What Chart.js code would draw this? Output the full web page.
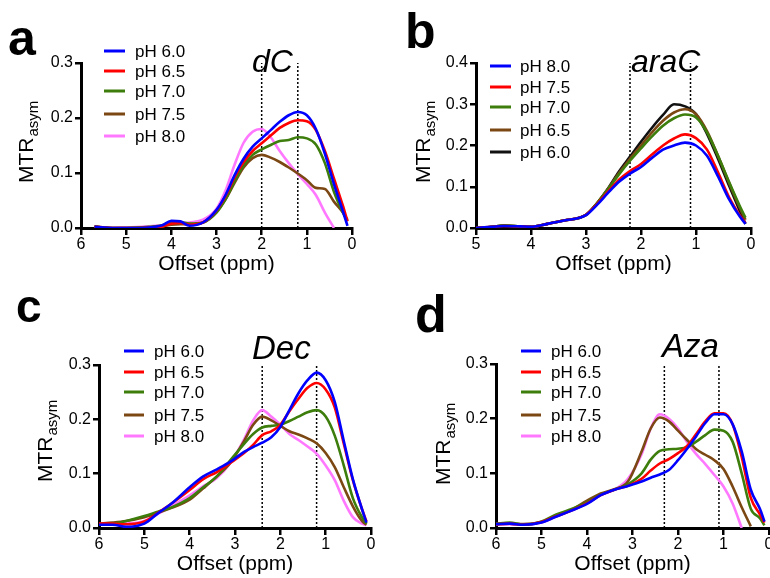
<!DOCTYPE html>
<html>
<head>
<meta charset="utf-8">
<script src="https://cdn.jsdelivr.net/npm/chart.js@4.4.1/dist/chart.umd.min.js"></script>
<style>
  body { margin: 0; background: #fff; width: 770px; height: 578px; overflow: hidden; position: relative; }
  canvas { position: absolute; }
</style>
</head>
<body>
<canvas id="chartA" width="385" height="289" style="left:0;top:0"></canvas>
<canvas id="chartB" width="385" height="289" style="left:385px;top:0"></canvas>
<canvas id="chartC" width="385" height="289" style="left:0;top:289px"></canvas>
<canvas id="chartD" width="405" height="289" style="left:385px;top:289px"></canvas>
<script>
const FONT = '"Liberation Sans", Arial, Helvetica, sans-serif';
const BLUE = '#0000ff', RED = '#ff0000', GREEN = '#3c7d0c', BROWN = '#7b4713', PINK = '#ff78ff', BLACK = '#111111';

// panel a: dC
const offsetsA = [5.7, 5.3, 5.0, 4.5, 4.2, 4.0, 3.8, 3.6, 3.3, 3.0, 2.8, 2.6, 2.4, 2.2, 2.0, 1.8, 1.6, 1.4, 1.2, 1.0, 0.8, 0.6, 0.4, 0.2, 0.1];
const dcPH60 = [0.002, 0, 0, 0.001, 0.005, 0.013, 0.012, 0.004, 0.01, 0.033, 0.06, 0.096, 0.126, 0.148, 0.163, 0.178, 0.193, 0.205, 0.211, 0.205, 0.18, 0.135, 0.08, 0.03, 0.004];
const dcPH65 = [0.002, 0, 0, 0.001, 0.003, 0.008, 0.009, 0.006, 0.01, 0.032, 0.058, 0.092, 0.12, 0.14, 0.154, 0.168, 0.182, 0.191, 0.196, 0.194, 0.178, 0.14, 0.09, 0.04, 0.012];
const dcPH70 = [0.002, 0, 0, 0.002, 0.005, 0.01, 0.011, 0.008, 0.01, 0.028, 0.052, 0.085, 0.114, 0.133, 0.143, 0.151, 0.158, 0.16, 0.165, 0.163, 0.152, 0.118, 0.066, 0.028, 0.013];
const dcPH75 = [0.003, 0, 0, 0.001, 0.003, 0.006, 0.007, 0.007, 0.01, 0.03, 0.052, 0.082, 0.11, 0.127, 0.133, 0.128, 0.12, 0.11, 0.099, 0.087, 0.073, 0.071, 0.048, 0.028, 0.015];
const dcPH80 = [0.003, 0, 0.001, 0.003, 0.005, 0.007, 0.008, 0.01, 0.015, 0.035, 0.068, 0.115, 0.155, 0.175, 0.18, 0.165, 0.14, 0.118, 0.098, 0.08, 0.06, 0.028, 0.0, null, null];

// panel b: araC
const offsetsB = [5.0, 4.7, 4.5, 4.2, 4.0, 3.7, 3.4, 3.0, 2.8, 2.6, 2.4, 2.2, 2.0, 1.8, 1.6, 1.4, 1.2, 1.0, 0.8, 0.6, 0.4, 0.2, 0.1];
const araPH80 = [0.0, 0.003, 0.005, 0.004, 0.003, 0.01, 0.018, 0.031, 0.056, 0.085, 0.112, 0.132, 0.148, 0.17, 0.19, 0.2, 0.207, 0.2, 0.175, 0.125, 0.07, 0.027, 0.01];
const araPH75 = [0.0, 0.003, 0.005, 0.004, 0.003, 0.01, 0.018, 0.032, 0.058, 0.088, 0.117, 0.138, 0.155, 0.178, 0.2, 0.217, 0.227, 0.218, 0.19, 0.135, 0.075, 0.03, 0.012];
const araPH70 = [0.0, 0.003, 0.006, 0.004, 0.003, 0.01, 0.018, 0.032, 0.06, 0.094, 0.13, 0.163, 0.193, 0.222, 0.248, 0.266, 0.275, 0.268, 0.232, 0.175, 0.112, 0.052, 0.025];
const araPH65 = [0.0, 0.003, 0.006, 0.004, 0.003, 0.01, 0.018, 0.032, 0.06, 0.095, 0.133, 0.168, 0.2, 0.232, 0.26, 0.28, 0.288, 0.276, 0.235, 0.175, 0.11, 0.048, 0.02];
const araPH60 = [0.0, 0.003, 0.006, 0.004, 0.003, 0.01, 0.018, 0.032, 0.06, 0.096, 0.137, 0.173, 0.209, 0.243, 0.274, 0.3, 0.295, 0.276, 0.228, 0.168, 0.103, 0.04, 0.01];

// panel c: Dec
const offsetsC = [6.0, 5.7, 5.4, 5.0, 4.7, 4.4, 4.0, 3.7, 3.4, 3.1, 2.8, 2.6, 2.4, 2.2, 2.0, 1.8, 1.6, 1.4, 1.2, 1.0, 0.8, 0.6, 0.4, 0.2, 0.1];
const decPH60 = [0.006, 0.006, 0.002, 0.008, 0.027, 0.045, 0.075, 0.095, 0.108, 0.122, 0.14, 0.149, 0.157, 0.167, 0.186, 0.217, 0.248, 0.272, 0.286, 0.272, 0.232, 0.16, 0.09, 0.035, 0.01];
const decPH65 = [0.008, 0.008, 0.007, 0.012, 0.028, 0.045, 0.07, 0.09, 0.103, 0.12, 0.138, 0.153, 0.171, 0.178, 0.19, 0.215, 0.238, 0.258, 0.267, 0.255, 0.222, 0.155, 0.088, 0.035, 0.012];
const decPH70 = [0.006, 0.008, 0.013, 0.022, 0.03, 0.038, 0.055, 0.075, 0.095, 0.125, 0.155, 0.173, 0.185, 0.188, 0.19, 0.197, 0.205, 0.213, 0.217, 0.205, 0.17, 0.115, 0.055, 0.02, 0.008];
const decPH75 = [0.008, 0.01, 0.013, 0.02, 0.028, 0.037, 0.052, 0.073, 0.095, 0.12, 0.16, 0.19, 0.205, 0.198, 0.188, 0.178, 0.172, 0.165, 0.156, 0.138, 0.112, 0.075, 0.04, 0.013, 0.006];
const decPH80 = [0.006, 0.007, 0.008, 0.013, 0.026, 0.04, 0.06, 0.077, 0.092, 0.12, 0.163, 0.198, 0.217, 0.205, 0.19, 0.173, 0.162, 0.15, 0.137, 0.115, 0.088, 0.05, 0.02, 0.008, 0.005];

// panel d: Aza
const offsetsD = [6.0, 5.7, 5.4, 5.0, 4.7, 4.4, 4.0, 3.7, 3.4, 3.1, 2.8, 2.6, 2.4, 2.2, 2.0, 1.8, 1.6, 1.4, 1.2, 1.0, 0.8, 0.6, 0.4, 0.2, 0.1];
const azaPH60 = [0.007, 0.008, 0.006, 0.01, 0.02, 0.03, 0.044, 0.06, 0.07, 0.077, 0.085, 0.092, 0.098, 0.106, 0.124, 0.145, 0.168, 0.192, 0.208, 0.208, 0.19, 0.14, 0.07, 0.035, 0.012];
const azaPH65 = [0.007, 0.008, 0.006, 0.011, 0.021, 0.03, 0.045, 0.06, 0.07, 0.077, 0.09, 0.105, 0.118, 0.126, 0.137, 0.15, 0.172, 0.195, 0.21, 0.21, 0.19, 0.13, 0.055, 0.025, 0.01];
const azaPH70 = [0.008, 0.01, 0.006, 0.012, 0.024, 0.033, 0.047, 0.061, 0.07, 0.08, 0.1, 0.125, 0.141, 0.144, 0.145, 0.148, 0.158, 0.17, 0.18, 0.178, 0.158, 0.1, 0.035, 0.018, 0.005];
const azaPH75 = [0.007, 0.008, 0.007, 0.011, 0.021, 0.031, 0.05, 0.063, 0.071, 0.085, 0.14, 0.182, 0.202, 0.195, 0.178, 0.161, 0.144, 0.134, 0.124, 0.108, 0.076, 0.038, 0.003, null, null];
const azaPH80 = [0.006, 0.007, 0.006, 0.01, 0.02, 0.03, 0.045, 0.06, 0.07, 0.09, 0.135, 0.182, 0.208, 0.2, 0.182, 0.157, 0.135, 0.117, 0.097, 0.076, 0.045, 0.0, null, null, null];

function lineSet(label, color, xs, ys) {
  return {
    label: label,
    borderColor: color,
    backgroundColor: color,
    borderWidth: 2.6,
    pointRadius: 0,
    cubicInterpolationMode: 'monotone',
    spanGaps: false,
    data: xs.map((x, i) => ({ x: x, y: ys[i] }))
  };
}

function markerSet(x, top) {
  return {
    label: '',
    marker: true,
    borderColor: '#000',
    borderWidth: 1.5,
    borderDash: [2, 2],
    pointRadius: 0,
    data: [{ x: x, y: 0 }, { x: x, y: top }]
  };
}

// letters, titles, legends and the y label drawn on top of each panel
const decorations = {
  id: 'decorations',
  afterDraw(chart, args, opts) {
    const ctx = chart.ctx;
    ctx.save();
    ctx.fillStyle = '#000';
    ctx.textBaseline = 'alphabetic';
    ctx.textAlign = 'left';

    ctx.font = `bold ${opts.letterSize}px ${FONT}`;
    ctx.fillText(opts.letter, opts.letterX, opts.letterY);

    ctx.font = `italic ${opts.titleSize}px ${FONT}`;
    ctx.fillText(opts.title, opts.titleX, opts.titleY);

    // legend
    ctx.font = `17px ${FONT}`;
    ctx.textBaseline = 'middle';
    const sets = chart.data.datasets.filter(d => !d.marker);
    sets.forEach((d, i) => {
      const y = opts.legendRows[i];
      ctx.strokeStyle = d.borderColor;
      ctx.lineWidth = 3;
      ctx.beginPath();
      ctx.moveTo(opts.legendX1, y);
      ctx.lineTo(opts.legendX2, y);
      ctx.stroke();
      ctx.fillText(d.label, opts.legendTextX, y + 1);
    });

    // MTR with asym subscript, rotated
    ctx.textBaseline = 'alphabetic';
    ctx.translate(opts.yLabelX, opts.yLabelY);
    ctx.rotate(-Math.PI / 2);
    ctx.font = `21px ${FONT}`;
    ctx.fillText('MTR', 0, 0);
    const w = ctx.measureText('MTR').width;
    ctx.font = `15px ${FONT}`;
    ctx.fillText('asym', w + 1, 5);
    ctx.restore();
  }
};

function makeChart(id, p) {
  const canvas = document.getElementById(id);
  const datasets = p.series.map(s => lineSet(s[0], s[1], p.offsets, s[2]));
  p.markers.forEach(m => datasets.push(markerSet(m, p.yMax)));
  return new Chart(canvas.getContext('2d'), {
    type: 'line',
    data: { datasets: datasets },
    plugins: [decorations],
    options: {
      responsive: false,
      animation: false,
      events: [],
      layout: { padding: { left: 0, top: p.area.t, right: canvas.width - p.area.r, bottom: 0 } },
      plugins: {
        legend: { display: false },
        tooltip: { enabled: false },
        decorations: p.deco
      },
      scales: {
        x: {
          type: 'linear',
          reverse: true,
          min: 0,
          max: p.xMax,
          afterFit: s => { s.height = canvas.height - p.area.b; },
          ticks: {
            stepSize: 1,
            autoSkip: false,
            maxRotation: 0,
            padding: 0,
            color: '#000',
            font: { family: FONT, size: 16 }
          },
          grid: { drawOnChartArea: false, drawTicks: true, tickLength: 7, lineWidth: 2.5, tickColor: '#000' },
          border: { display: true, color: '#000', width: 3 },
          title: {
            display: true,
            text: 'Offset (ppm)',
            color: '#000',
            font: { family: FONT, size: 21 },
            padding: { top: 0, bottom: p.xTitlePad }
          }
        },
        y: {
          type: 'linear',
          min: 0,
          max: p.yMax,
          afterFit: s => { s.width = p.area.l; },
          ticks: {
            stepSize: 0.1,
            padding: 2,
            color: '#000',
            font: { family: FONT, size: 16 },
            callback: v => v.toFixed(1)
          },
          grid: { drawOnChartArea: false, drawTicks: true, tickLength: 6, lineWidth: 2.5, tickColor: '#000' },
          border: { display: true, color: '#000', width: 3 }
        }
      }
    }
  });
}

makeChart('chartA', {
  offsets: offsetsA, xMax: 6, yMax: 0.3, markers: [2.0, 1.2],
  area: { l: 81, r: 352, t: 63, b: 228 }, xTitlePad: 12,
  series: [['pH 6.0', BLUE, dcPH60], ['pH 6.5', RED, dcPH65], ['pH 7.0', GREEN, dcPH70], ['pH 7.5', BROWN, dcPH75], ['pH 8.0', PINK, dcPH80]],
  deco: {
    letter: 'a', letterSize: 50, letterX: 8, letterY: 55,
    title: 'dC', titleSize: 32, titleX: 252, titleY: 72,
    legendRows: [51, 71, 91, 114, 136], legendX1: 104, legendX2: 125, legendTextX: 135,
    yLabelX: 33, yLabelY: 183
  }
});

makeChart('chartB', {
  offsets: offsetsB, xMax: 5, yMax: 0.4, markers: [2.2, 1.1],
  area: { l: 91, r: 366, t: 63, b: 228 }, xTitlePad: 12,
  series: [['pH 8.0', BLUE, araPH80], ['pH 7.5', RED, araPH75], ['pH 7.0', GREEN, araPH70], ['pH 6.5', BROWN, araPH65], ['pH 6.0', BLACK, araPH60]],
  deco: {
    letter: 'b', letterSize: 50, letterX: 20, letterY: 48,
    title: 'araC', titleSize: 32, titleX: 246, titleY: 72,
    legendRows: [66, 87, 107, 130, 152], legendX1: 105, legendX2: 126, legendTextX: 135,
    yLabelX: 45, yLabelY: 183
  }
});

makeChart('chartC', {
  offsets: offsetsC, xMax: 6, yMax: 0.3, markers: [2.4, 1.2],
  area: { l: 99, r: 371, t: 76, b: 239 }, xTitlePad: 1,
  series: [['pH 6.0', BLUE, decPH60], ['pH 6.5', RED, decPH65], ['pH 7.0', GREEN, decPH70], ['pH 7.5', BROWN, decPH75], ['pH 8.0', PINK, decPH80]],
  deco: {
    letter: 'c', letterSize: 46, letterX: 16, letterY: 33,
    title: 'Dec', titleSize: 33, titleX: 252, titleY: 70,
    legendRows: [62, 83, 103, 126, 147], legendX1: 124, legendX2: 144, legendTextX: 154,
    yLabelX: 52, yLabelY: 193
  }
});

makeChart('chartD', {
  offsets: offsetsD, xMax: 6, yMax: 0.3, markers: [2.3, 1.1],
  area: { l: 111, r: 384, t: 75, b: 239 }, xTitlePad: 1,
  series: [['pH 6.0', BLUE, azaPH60], ['pH 6.5', RED, azaPH65], ['pH 7.0', GREEN, azaPH70], ['pH 7.5', BROWN, azaPH75], ['pH 8.0', PINK, azaPH80]],
  deco: {
    letter: 'd', letterSize: 52, letterX: 30, letterY: 43,
    title: 'Aza', titleSize: 33, titleX: 277, titleY: 68,
    legendRows: [62, 83, 103, 126, 147], legendX1: 136, legendX2: 156, legendTextX: 166,
    yLabelX: 65, yLabelY: 196
  }
});
</script>
</body>
</html>
